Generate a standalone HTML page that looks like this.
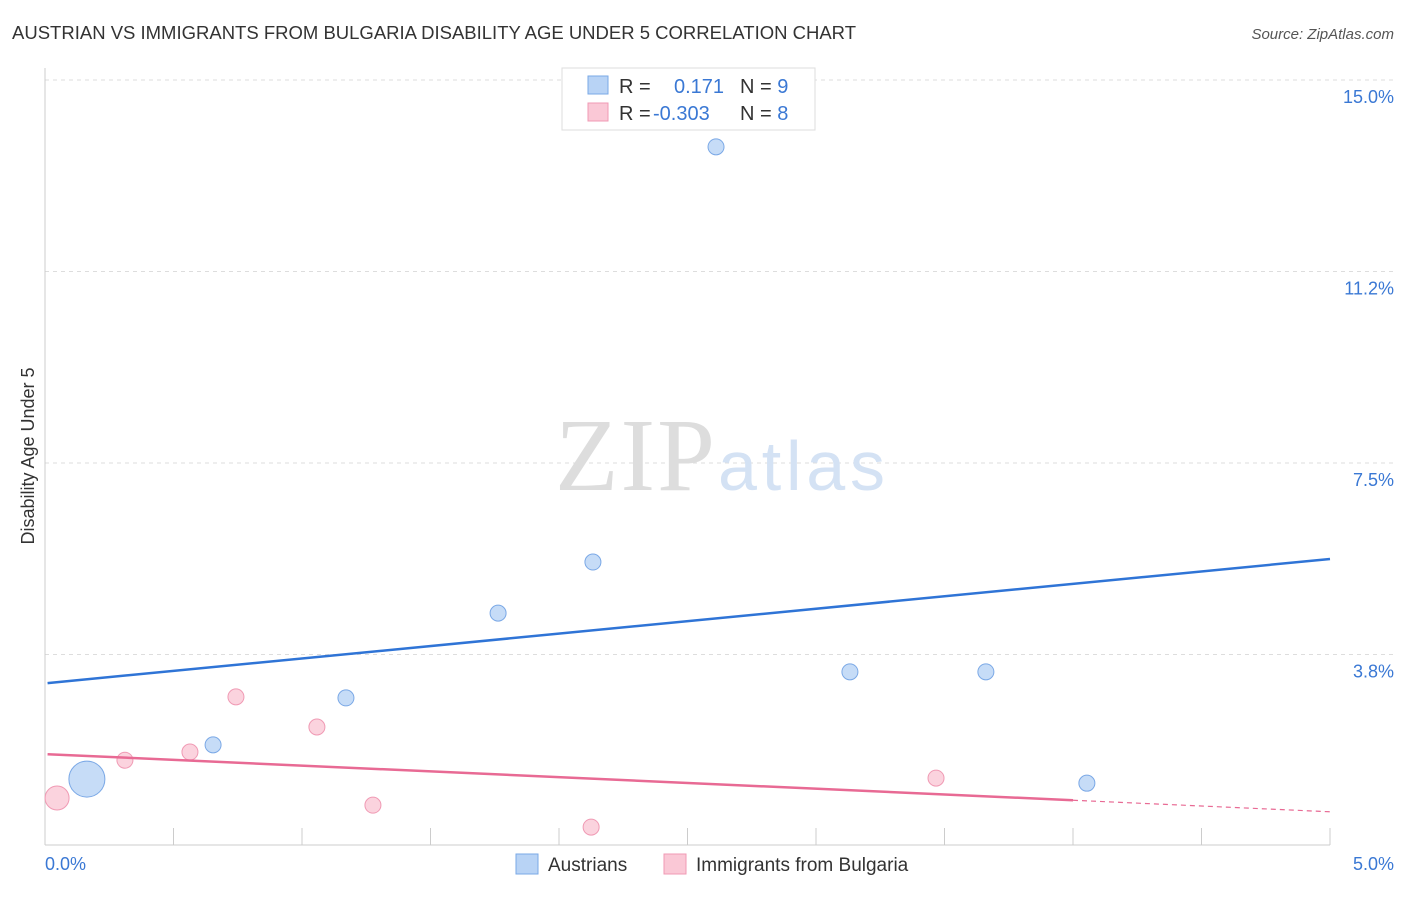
<!DOCTYPE html>
<html><head><meta charset="utf-8"><style>
body{margin:0;background:#fff;font-family:"Liberation Sans",sans-serif;}
</style></head><body>
<svg width="1406" height="892" xmlns="http://www.w3.org/2000/svg" font-family="Liberation Sans, sans-serif">
<text x="12" y="39" font-size="18.5" fill="#333" textLength="844">AUSTRIAN VS IMMIGRANTS FROM BULGARIA DISABILITY AGE UNDER 5 CORRELATION CHART</text>
<text x="1394" y="39" font-size="15" fill="#555" text-anchor="end" font-style="italic">Source: ZipAtlas.com</text>
<text x="34" y="456" font-size="18" fill="#333" text-anchor="middle" transform="rotate(-90 34 456)">Disability Age Under 5</text>
<g id="grid"></g>
<line x1="45" y1="68" x2="45" y2="845" stroke="#ccc"/>
<line x1="45" y1="845" x2="1330" y2="845" stroke="#ccc"/>
<text x="555" y="490" font-size="104" fill="#ddd" textLength="160" font-family="Liberation Serif, serif">ZIP</text>
<text x="718" y="490" font-size="70" fill="#d4e2f4" textLength="167">atlas</text>
<g id="marks"></g>
<text x="45" y="870" font-size="18" fill="#3a78d4">0.0%</text>
<text x="1394" y="870" font-size="18" fill="#3a78d4" text-anchor="end">5.0%</text>
<g>
<rect x="562" y="68" width="253" height="62" fill="#fff" stroke="#ddd"/>
<rect x="588" y="76" width="20" height="18" fill="#b8d3f5" stroke="#7aa8e6"/>
<rect x="588" y="103" width="20" height="18" fill="#fac8d6" stroke="#f09ab4"/>
<text x="619" y="93" font-size="20" fill="#333">R = <tspan x="674" fill="#3a78d4">0.171</tspan><tspan x="740" fill="#333">N = </tspan><tspan fill="#3a78d4">9</tspan></text>
<text x="619" y="120" font-size="20" fill="#333">R = <tspan x="653" fill="#3a78d4">-0.303</tspan><tspan x="740" fill="#333">N = </tspan><tspan fill="#3a78d4">8</tspan></text>
</g>
<g>
<rect x="516" y="854" width="22" height="20" fill="#b8d3f5" stroke="#7aa8e6"/>
<text x="548" y="871" font-size="19" fill="#333">Austrians</text>
<rect x="664" y="854" width="22" height="20" fill="#fac8d6" stroke="#f09ab4"/>
<text x="696" y="871" font-size="19" fill="#333">Immigrants from Bulgaria</text>
</g>
</svg>
<script>
const yTicks=[15.0,11.25,7.5,3.75];
const yTickLabels=["15.0%","11.2%","7.5%","3.8%"];
const xTicks=[0,0.5,1,1.5,2,2.5,3,3.5,4,4.5,5];
const austX=[0.654,1.171,1.763,2.132,2.611,3.132,3.661,4.054,0.163];
const austY=[1.98,2.90,4.56,5.56,13.69,3.41,3.41,1.23,1.31];
const austR=[8,8,8,8,8,8,8,8,18];
const bulgX=[0.047,0.311,0.564,0.743,1.058,1.276,2.125,3.467];
const bulgY=[0.94,1.68,1.84,2.92,2.33,0.80,0.37,1.33];
const bulgR=[12,8,8,8,8,8,8,8];
const austLine=[3.19,5.62];
const bulgLine=[1.80,0.67];
const bulgSolidEnd=4.0;
const NS="http://www.w3.org/2000/svg";
const X=v=>45+v*257;
const Y=v=>846-v*51.07;
function mk(t,a,p){const e=document.createElementNS(NS,t);for(const k in a)e.setAttribute(k,a[k]);p.appendChild(e);return e;}
const grid=document.getElementById('grid');
yTicks.forEach((v,i)=>{
 const l=mk('line',{x1:45,x2:1394,y1:Y(v),y2:Y(v),stroke:'#ddd','stroke-dasharray':'4 4'},grid);
 
 
 const t=mk('text',{x:1394,y:Y(v)+23,'font-size':18,fill:'#3a78d4','text-anchor':'end'},grid);
 t.textContent=yTickLabels[i];
 
 
});
xTicks.forEach(v=>{
 const l=mk('line',{x1:X(v),x2:X(v),y1:828,y2:845,stroke:'#ccc'},grid);
 
 
});
const m=document.getElementById('marks');
bulgX.forEach((v,i)=>{
 const c=mk('circle',{cx:X(v),cy:Y(bulgY[i]),r:bulgR[i],fill:'#fac8d6','fill-opacity':0.8,stroke:'#f09ab4'},m);
 
 
});
austX.forEach((v,i)=>{
 const c=mk('circle',{cx:X(v),cy:Y(austY[i]),r:austR[i],fill:'#b8d3f5','fill-opacity':0.8,stroke:'#7aa8e6'},m);
 
 
});
const al=mk('line',{x1:X(0.01),y1:Y(austLine[0]),x2:X(5),y2:Y(austLine[1]),stroke:'#2f74d6','stroke-width':2.5},m);


const by=x=>bulgLine[0]+(bulgLine[1]-bulgLine[0])*x/5;
const bl=mk('line',{x1:X(0.01),y1:Y(by(0.01)),x2:X(bulgSolidEnd),y2:Y(by(bulgSolidEnd)),stroke:'#e86a94','stroke-width':2.5},m);


const bd=mk('line',{x1:X(bulgSolidEnd),y1:Y(by(bulgSolidEnd)),x2:X(5),y2:Y(by(5)),stroke:'#e86a94','stroke-width':1.2,'stroke-dasharray':'5 4'},m);


</script>
</body></html>
